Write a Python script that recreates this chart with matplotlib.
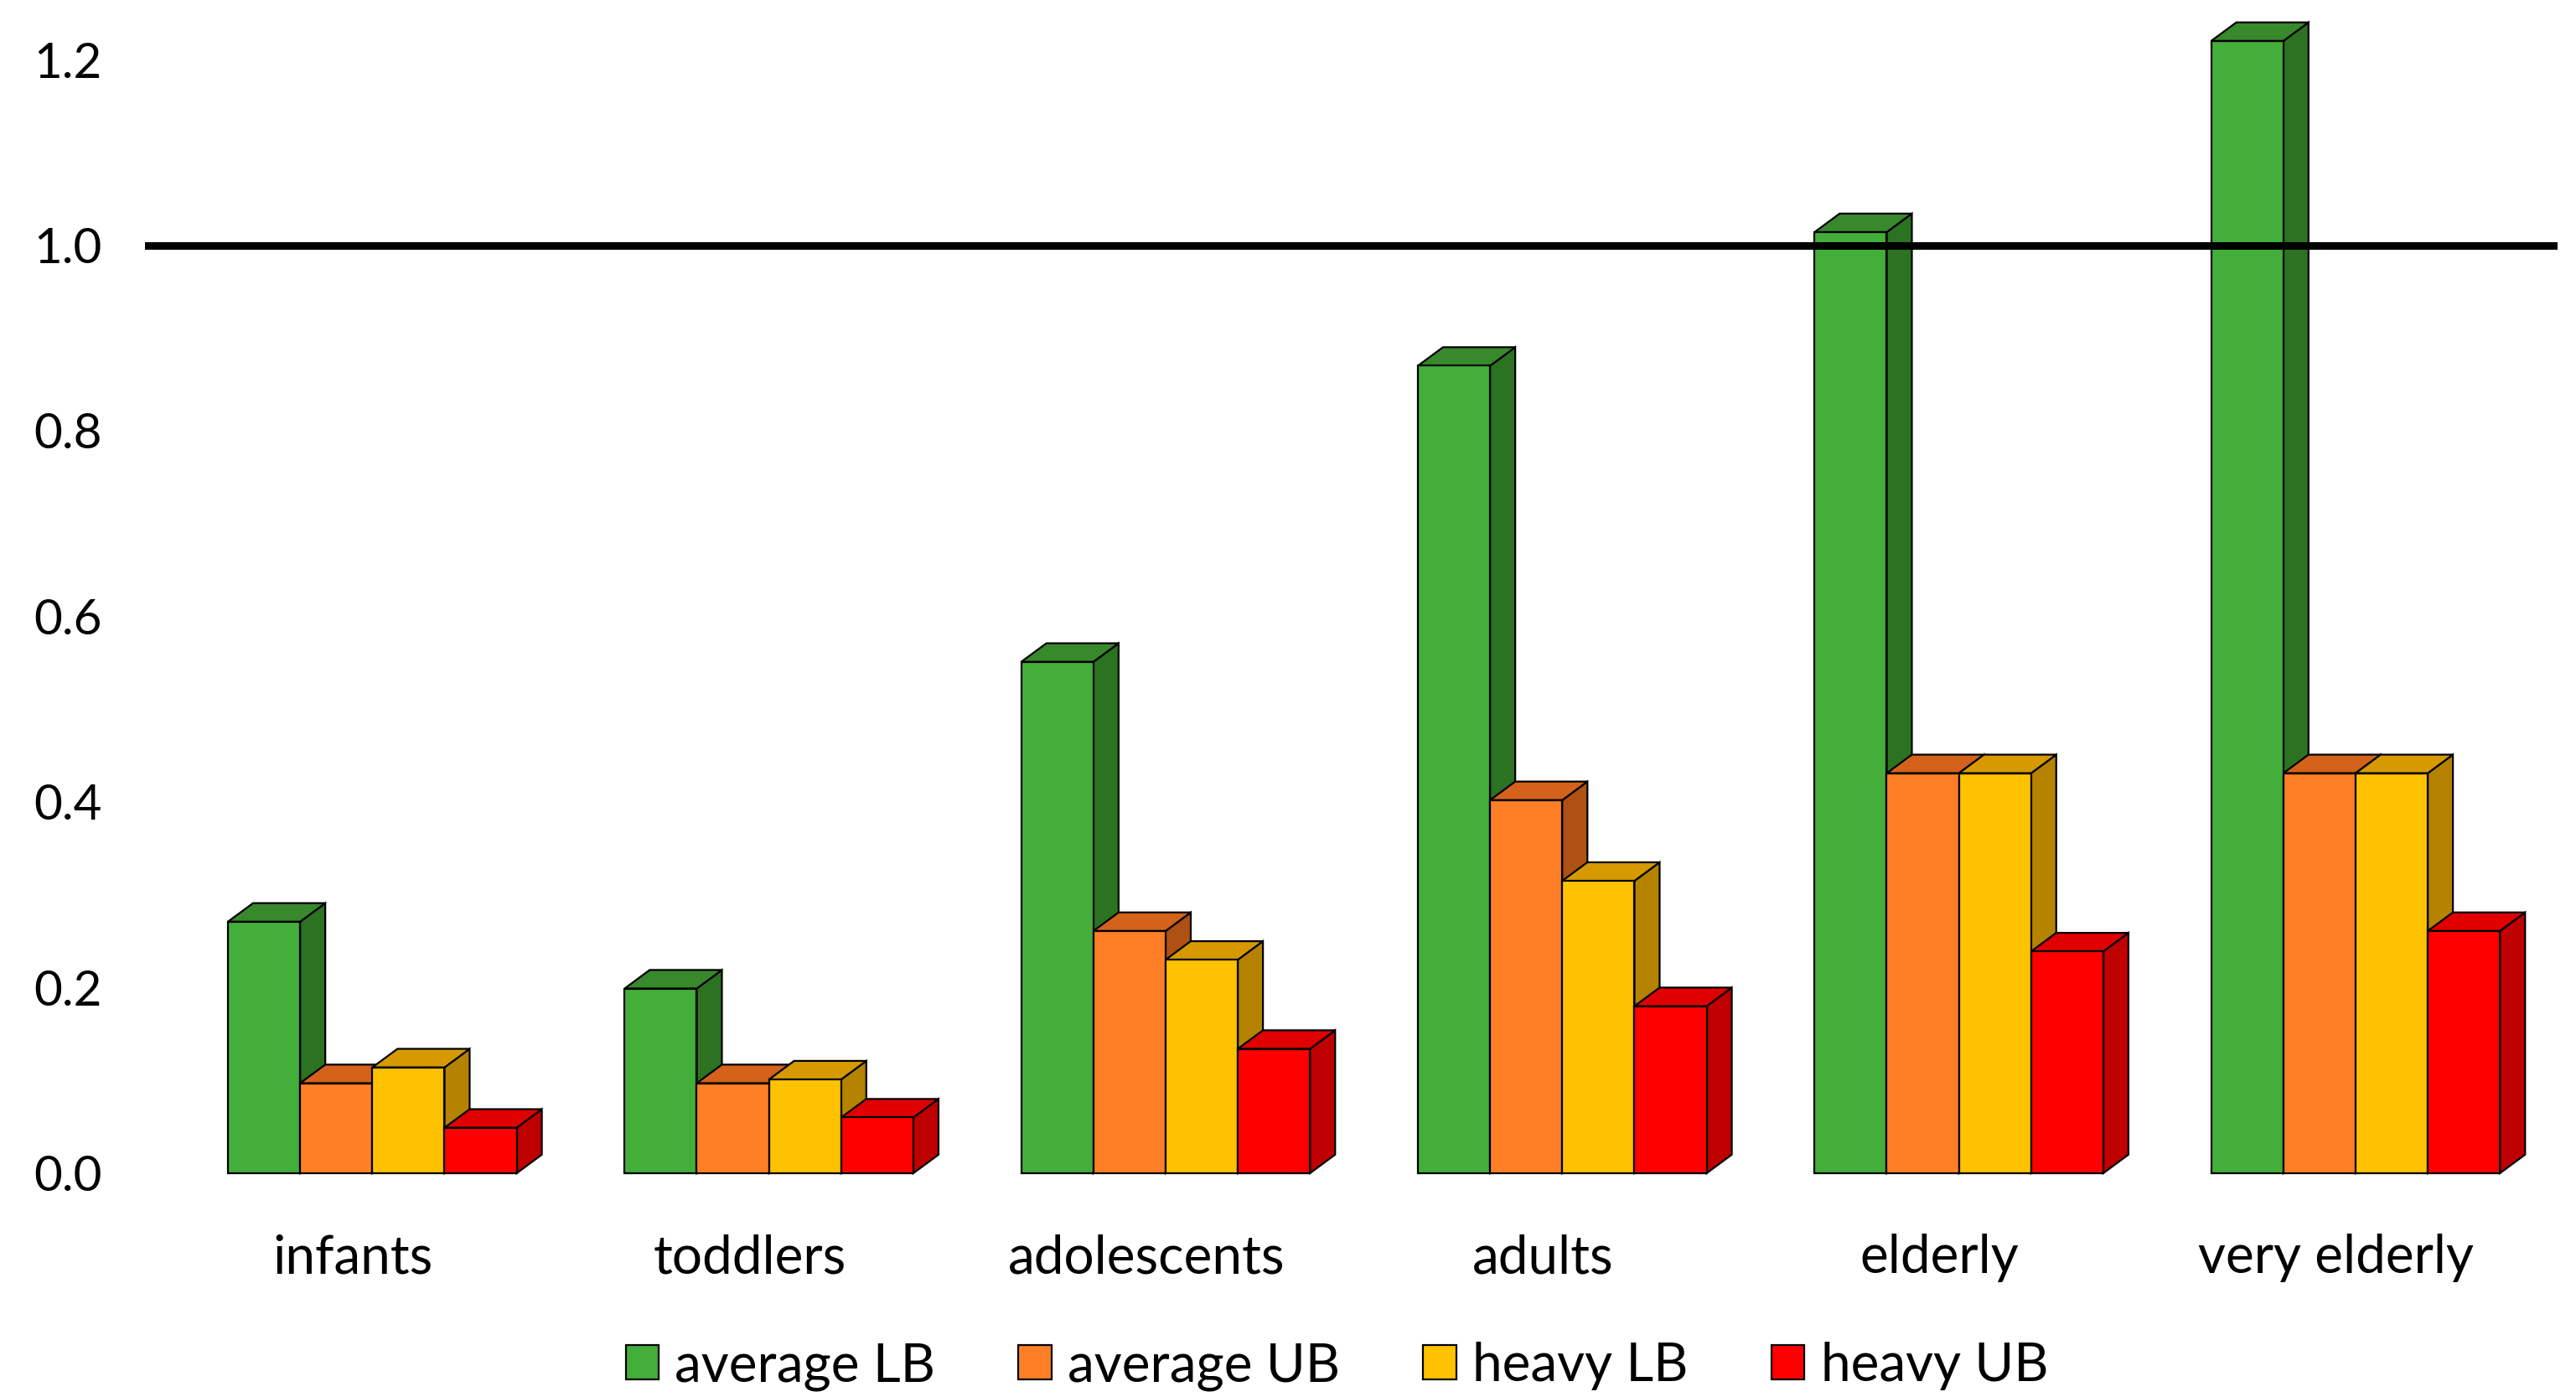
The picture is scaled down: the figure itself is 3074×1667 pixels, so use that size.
import numpy as np
import matplotlib.pyplot as plt
from matplotlib.patches import Polygon, Patch

plt.rcParams['font.family'] = ['Lato', 'DejaVu Sans']

# data
categories = ["infants", "toddlers", "adolescents", "adults", "elderly", "very elderly"]
series = ["average LB", "average UB", "heavy LB", "heavy UB"]
average_lb = [0.271, 0.199, 0.551, 0.870, 1.014, 1.220]
average_ub = [0.097, 0.097, 0.261, 0.402, 0.431, 0.431]
heavy_lb = [0.114, 0.101, 0.230, 0.315, 0.431, 0.431]
heavy_ub = [0.049, 0.060, 0.134, 0.180, 0.239, 0.261]
y_ticks = [0.0, 0.2, 0.4, 0.6, 0.8, 1.0, 1.2]
threshold = 1.0

# front / top / side colours per series
front_cols = ["#43AE3A", "#FF7F27", "#FFC200", "#FF0000"]
top_cols = ["#38882C", "#D4621A", "#D69A00", "#E00000"]
side_cols = ["#2B7320", "#AF5114", "#B58300", "#BE0000"]

values = [average_lb, average_ub, heavy_lb, heavy_ub]

fig = plt.figure(figsize=(30.74, 16.67), dpi=100)
ax = fig.add_axes([0.0563, 0.1602, 0.9365, 0.7972])

bar_w = 0.182
start = -0.315
dx = 0.0634
dy = 0.02
lw = 1.6

for i in range(len(categories)):
    for k in range(len(series)):
        h = values[k][i]
        x0 = i + start + k * bar_w
        x1 = x0 + bar_w
        side = Polygon([(x1, 0), (x1 + dx, dy), (x1 + dx, h + dy), (x1, h)],
                       closed=True, fc=side_cols[k], ec="black", lw=lw,
                       joinstyle="miter", clip_on=False, zorder=2)
        top = Polygon([(x0, h), (x1, h), (x1 + dx, h + dy), (x0 + dx, h + dy)],
                      closed=True, fc=top_cols[k], ec="black", lw=lw,
                      joinstyle="miter", clip_on=False, zorder=2)
        front = Polygon([(x0, 0), (x1, 0), (x1, h), (x0, h)],
                        closed=True, fc=front_cols[k], ec="black", lw=lw,
                        joinstyle="miter", clip_on=False, zorder=2)
        ax.add_patch(side)
        ax.add_patch(top)
        ax.add_patch(front)

ax.axhline(threshold, color="black", lw=6.5, zorder=10)

ax.set_xlim(-0.524, 5.558)
ax.set_ylim(0, 1.2)
ax.set_yticks(y_ticks)
ax.set_yticklabels([f"{t:.1f}" for t in y_ticks])
ax.set_xticks(range(len(categories)))
ax.set_xticklabels(categories)
ax.tick_params(axis="both", length=0)
ax.tick_params(axis="y", pad=37, labelsize=42)
ax.tick_params(axis="x", pad=52, labelsize=46)
for s in ax.spines.values():
    s.set_visible(False)

handles = [Patch(fc=front_cols[k], ec="black", lw=lw, label=series[k])
           for k in range(len(series))]
fig.legend(handles=handles, loc="center", bbox_to_anchor=(0.519, 0.022),
           ncol=4, frameon=False, fontsize=46, handlelength=0.62,
           handleheight=0.62, handletextpad=0.3, columnspacing=1.55)

fig.savefig("out.png", dpi=100)
